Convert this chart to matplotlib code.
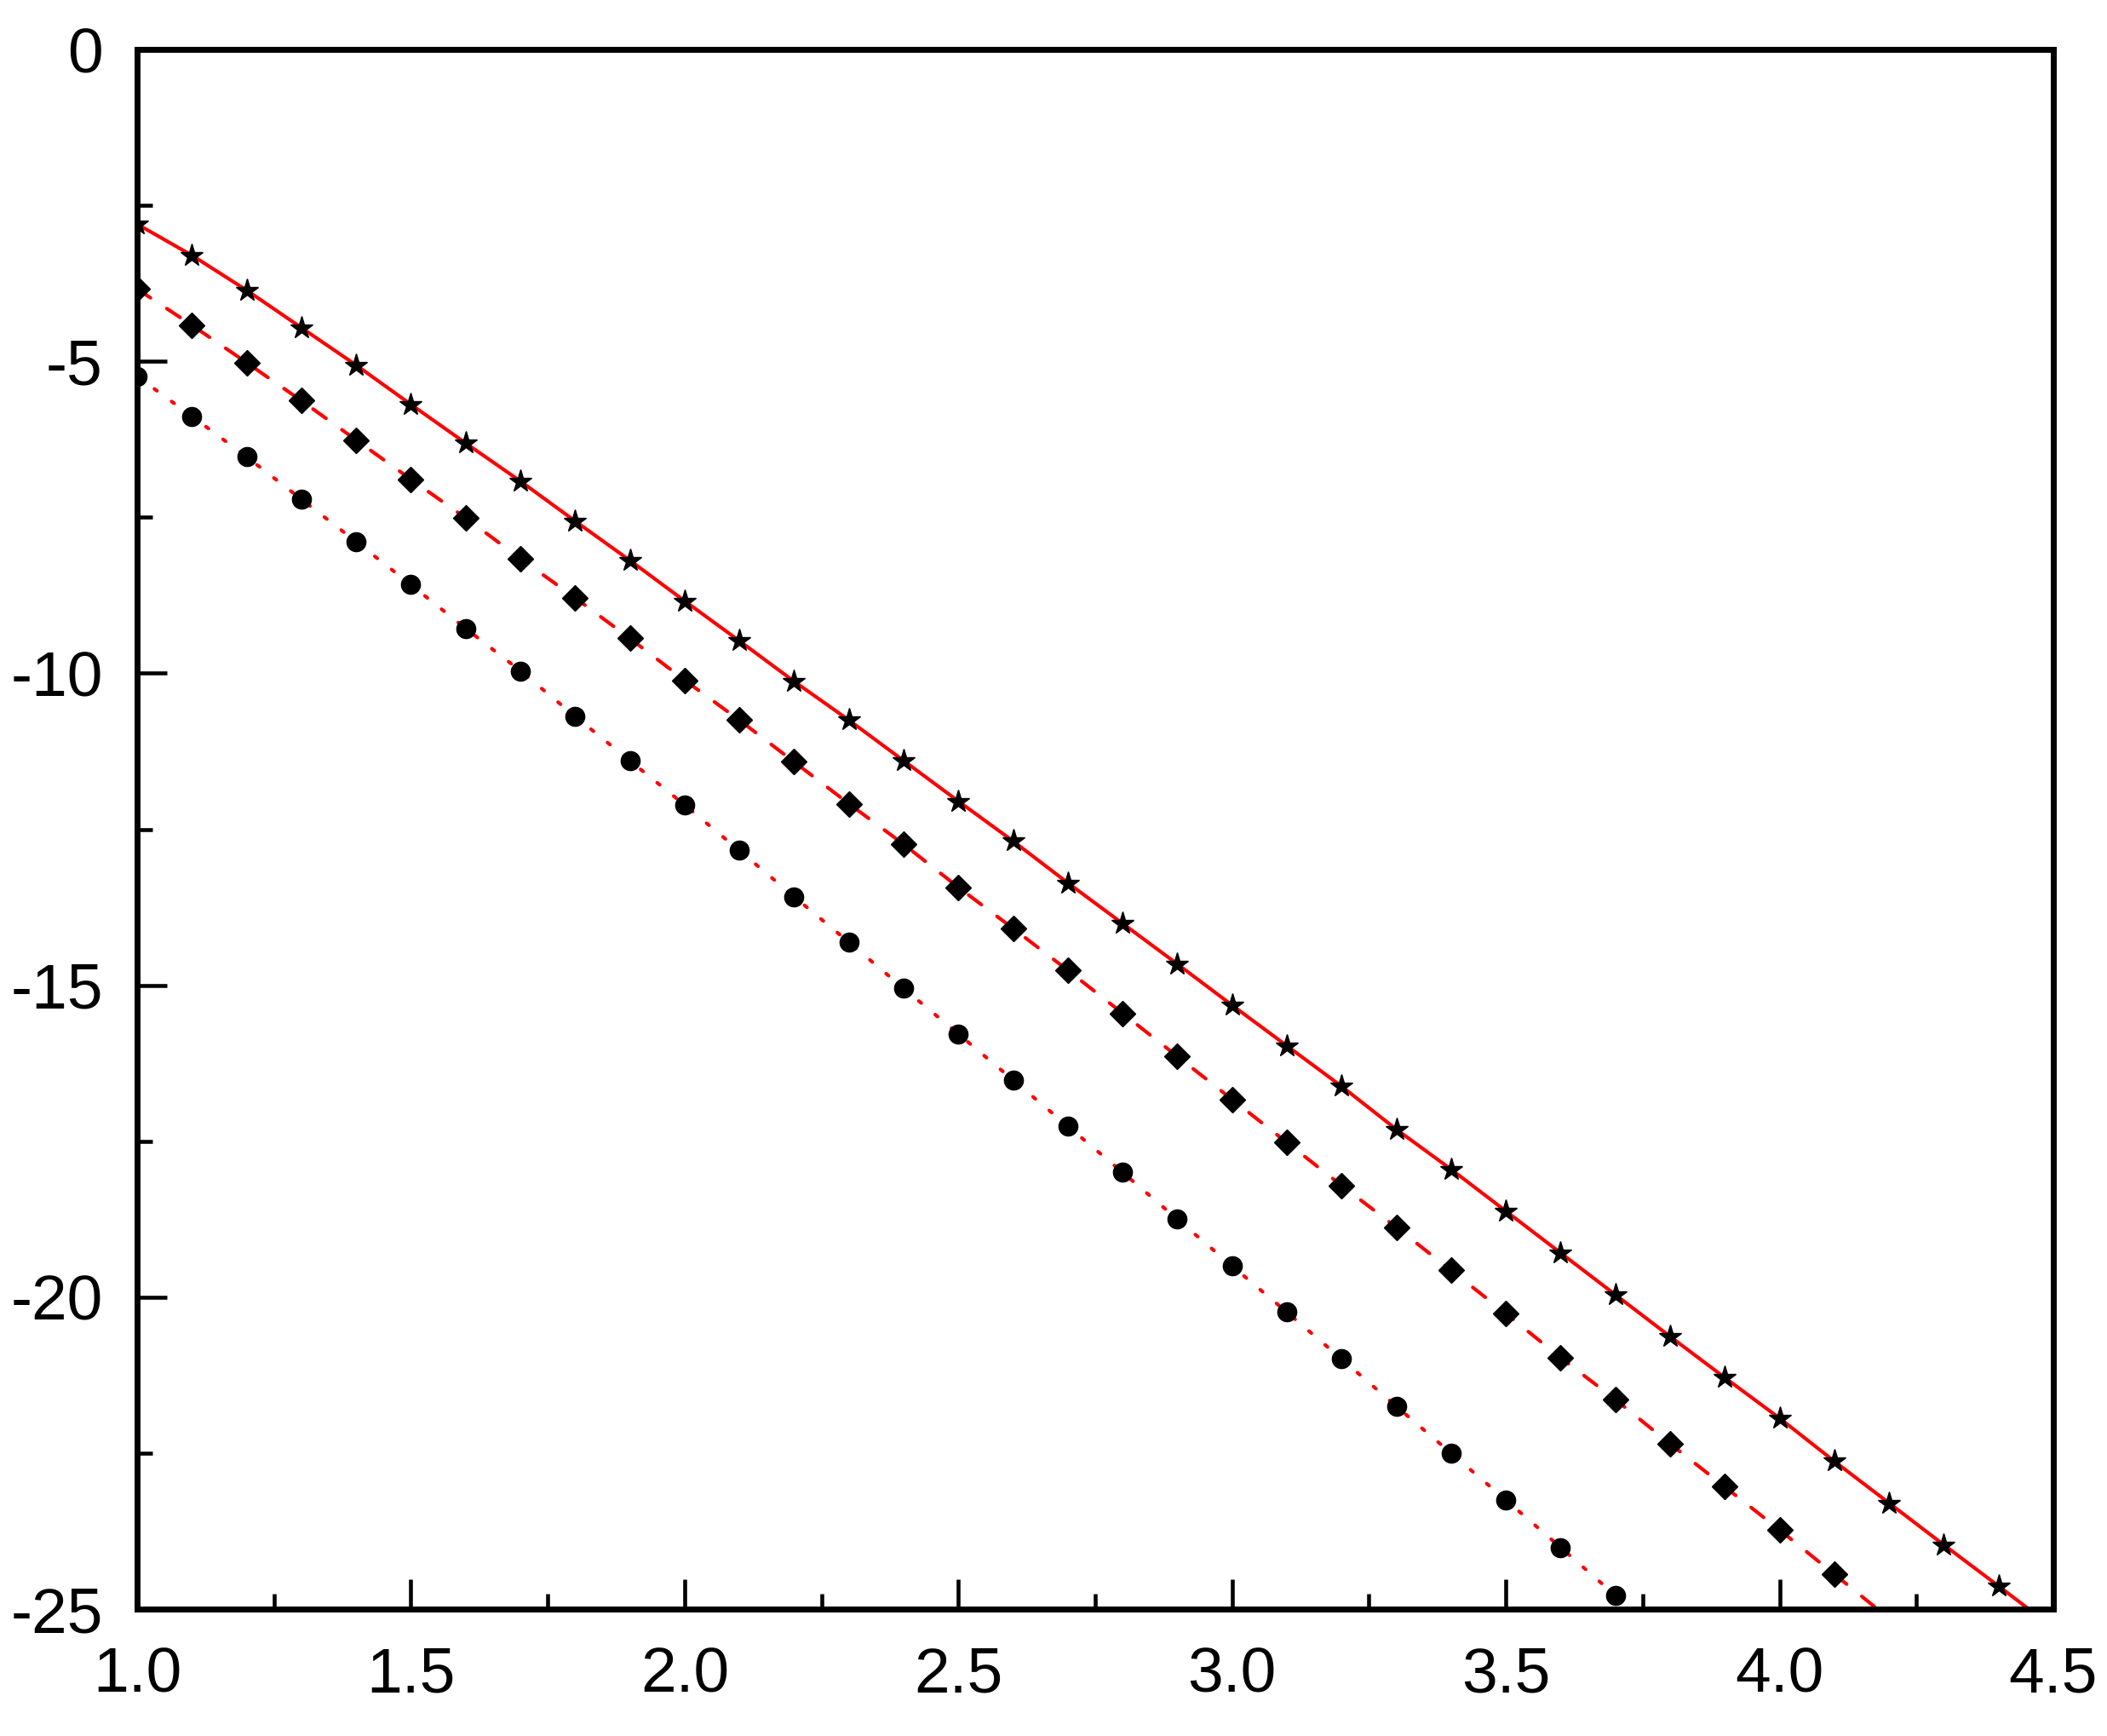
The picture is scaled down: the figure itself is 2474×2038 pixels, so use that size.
import matplotlib
matplotlib.use('Agg')
import matplotlib.pyplot as plt
from matplotlib.ticker import MultipleLocator, FormatStrFormatter

plt.rcParams['font.family'] = ['Liberation Sans', 'DejaVu Sans']
plt.rcParams['axes.unicode_minus'] = False

# x positions of the markers
x_star = [1.0, 1.1, 1.2, 1.3, 1.4, 1.5, 1.6, 1.7, 1.8, 1.9, 2.0, 2.1, 2.2, 2.3, 2.4,
          2.5, 2.6, 2.7, 2.8, 2.9, 3.0, 3.1, 3.2, 3.3, 3.4, 3.5, 3.6, 3.7, 3.8, 3.9,
          4.0, 4.1, 4.2, 4.3, 4.4]
y_star = [-2.80, -3.30, -3.86, -4.46, -5.06, -5.69, -6.31, -6.92, -7.56, -8.19,
          -8.84, -9.48, -10.13, -10.75, -11.40, -12.05, -12.69, -13.36, -14.01, -14.66,
          -15.32, -15.97, -16.62, -17.31, -17.95, -18.62, -19.29, -19.96, -20.63, -21.29,
          -21.94, -22.63, -23.30, -23.97, -24.63]

x_diam = [1.0, 1.1, 1.2, 1.3, 1.4, 1.5, 1.6, 1.7, 1.8, 1.9, 2.0, 2.1, 2.2, 2.3, 2.4,
          2.5, 2.6, 2.7, 2.8, 2.9, 3.0, 3.1, 3.2, 3.3, 3.4, 3.5, 3.6, 3.7, 3.8, 3.9,
          4.0, 4.1]
y_diam = [-3.84, -4.42, -5.02, -5.63, -6.26, -6.89, -7.51, -8.16, -8.79, -9.44,
          -10.11, -10.75, -11.42, -12.09, -12.74, -13.43, -14.09, -14.76, -15.45, -16.14,
          -16.83, -17.52, -18.21, -18.88, -19.57, -20.26, -20.97, -21.64, -22.35, -23.04,
          -23.73, -24.44]

x_circ = [1.0, 1.1, 1.2, 1.3, 1.4, 1.5, 1.6, 1.7, 1.8, 1.9, 2.0, 2.1, 2.2, 2.3, 2.4,
          2.5, 2.6, 2.7, 2.8, 2.9, 3.0, 3.1, 3.2, 3.3, 3.4, 3.5, 3.6, 3.7]
y_circ = [-5.24, -5.88, -6.53, -7.21, -7.89, -8.58, -9.28, -9.96, -10.69, -11.40,
          -12.11, -12.84, -13.58, -14.31, -15.05, -15.78, -16.52, -17.26, -18.00, -18.75,
          -19.50, -20.24, -20.99, -21.75, -22.50, -23.25, -24.01, -24.78]

# end points where the red lines leave the frame
end_star = (4.5, -25.30)
end_diam = (4.2, -25.15)
end_circ = (3.8, -25.54)

fig = plt.figure(figsize=(24.74, 20.38), dpi=100)
ax = fig.add_axes([0.0651, 0.0731, 0.9094, 0.8984])

ax.plot(x_star + [end_star[0]], y_star + [end_star[1]], color='red', lw=3, ls='-')
ax.plot(x_diam + [end_diam[0]], y_diam + [end_diam[1]], color='red', lw=3,
        dashes=(4.5, 5.5), dash_capstyle='round')
ax.plot(x_circ + [end_circ[0]], y_circ + [end_circ[1]], color='red', lw=3,
        dashes=(0.9, 5.1), dash_capstyle='round')

ax.plot(x_star, y_star, ls='none', marker='*', ms=20, color='black', zorder=3)
ax.plot(x_diam, y_diam, ls='none', marker='D', ms=14.8, color='black', zorder=3)
ax.plot(x_circ, y_circ, ls='none', marker='o', ms=16, color='black', zorder=3)

ax.set_xlim(1.0, 4.5)
ax.set_ylim(-25, 0)
ax.xaxis.set_major_locator(MultipleLocator(0.5))
ax.xaxis.set_minor_locator(MultipleLocator(0.25))
ax.yaxis.set_major_locator(MultipleLocator(5))
ax.yaxis.set_minor_locator(MultipleLocator(2.5))
ax.xaxis.set_major_formatter(FormatStrFormatter('%.1f'))
ax.yaxis.set_major_formatter(FormatStrFormatter('%d'))

for s in ax.spines.values():
    s.set_linewidth(5)
ax.tick_params(which='both', direction='in', top=False, right=False, width=3.3,
               labelsize=54)
ax.tick_params(which='major', length=25)
ax.tick_params(which='minor', length=13)
ax.tick_params(axis='x', pad=31)
ax.tick_params(axis='y', pad=29)

fig.savefig('out.png', dpi=100)
